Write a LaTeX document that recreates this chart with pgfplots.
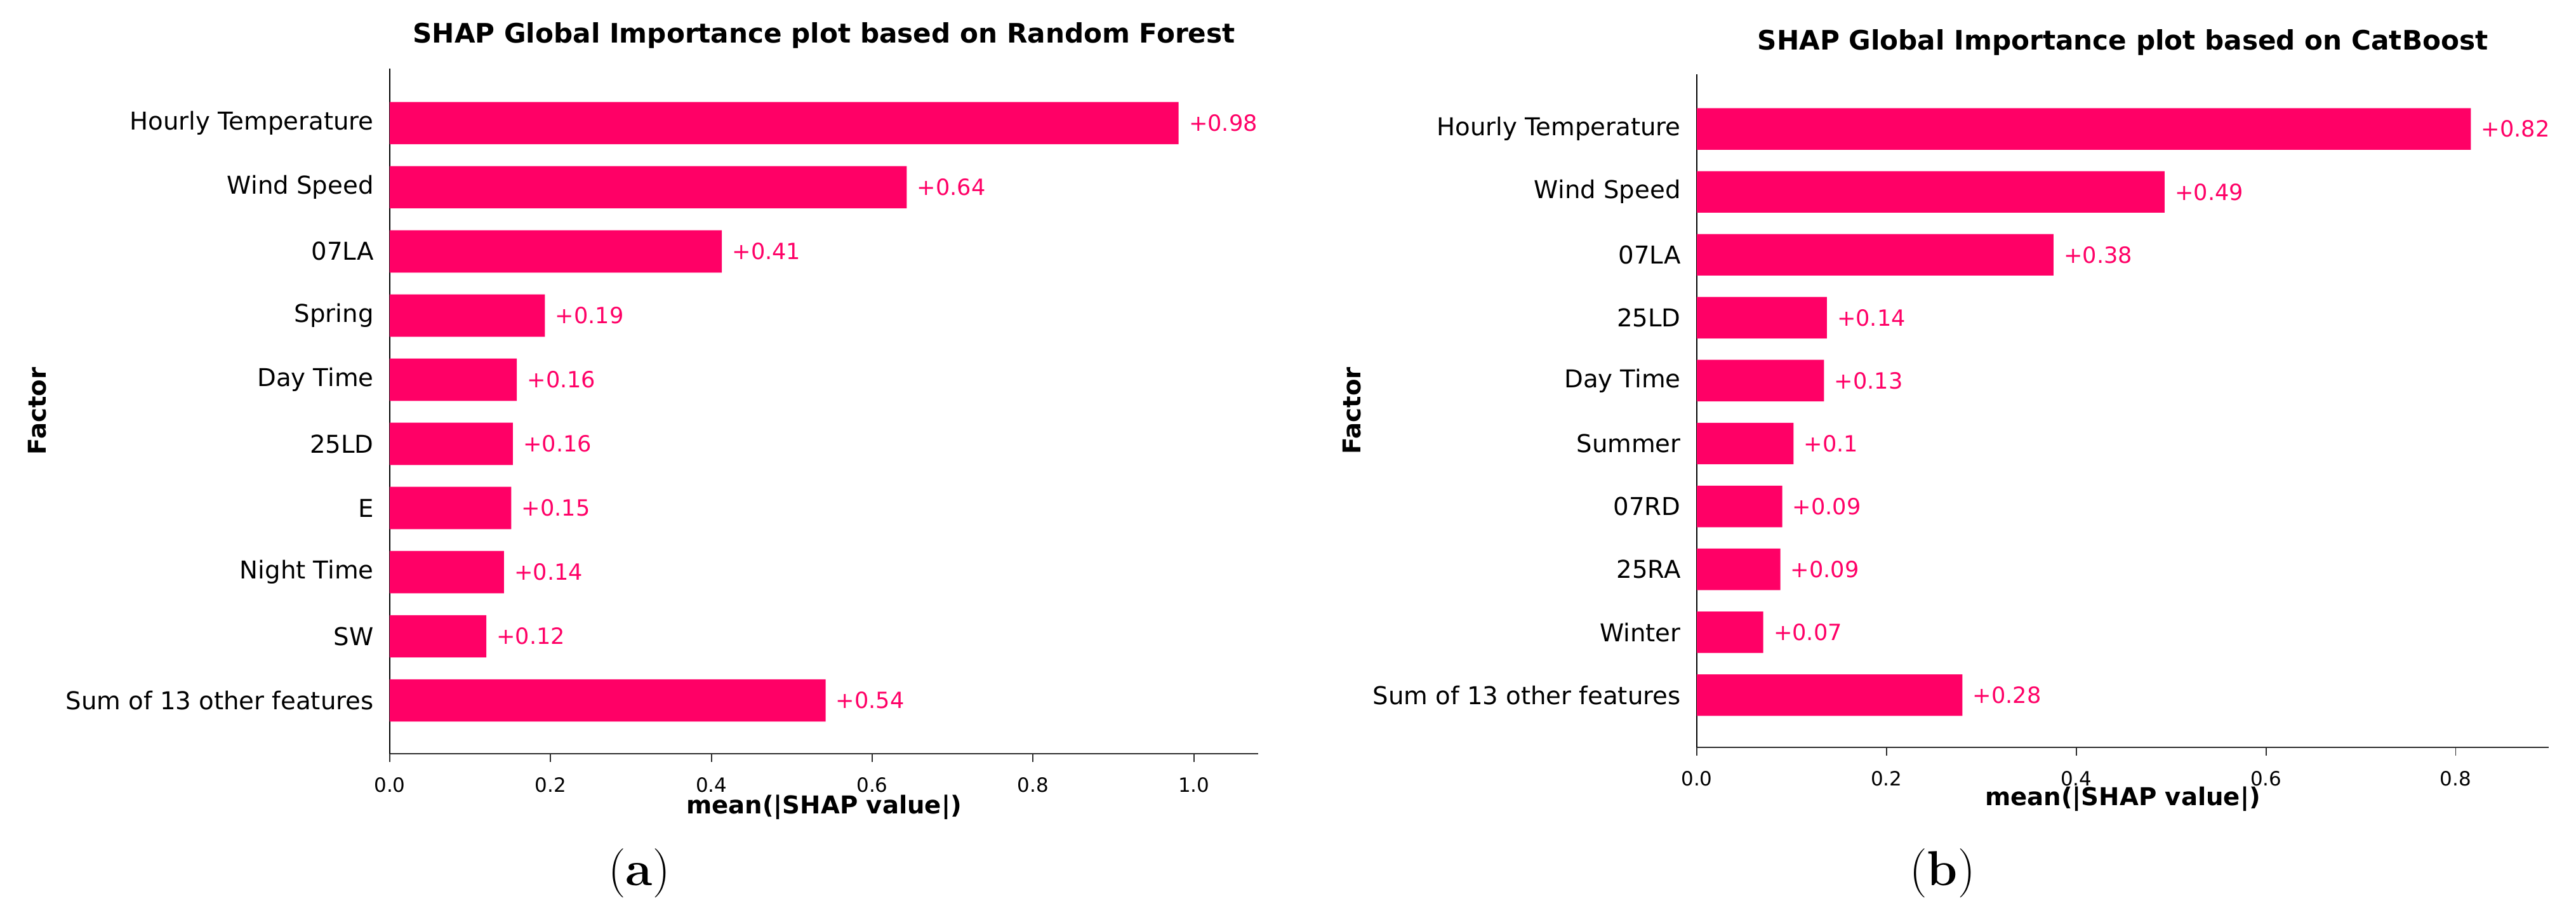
\documentclass[border=0pt]{standalone}
\usepackage{fontspec}
\usepackage{pgfplots}
\pgfplotsset{compat=1.18}
\newfontfamily\dv{DejaVu Sans}
\definecolor{shapred}{RGB}{255,0,102}
\definecolor{spine}{RGB}{45,45,45}
\pgfplotsset{shapbar/.style={
  scale only axis,
  xbar,
  bar width=0.66,
  xmin=0, ymin=-0.83,
  axis x line*=bottom, axis y line*=left,
  x axis line style={spine, line width=0.75pt, -},
  y axis line style={black, line width=0.5pt, -},
  ytick={0,...,9},
  yticklabel style={font=\dv\fontsize{11}{13}\selectfont, text=black},
  ytick style={draw=none},
  xtick style={spine, line width=0.5pt},
  xticklabel style={font=\dv\fontsize{8.8}{10}\selectfont, yshift=-1.2mm, /pgf/number format/fixed, /pgf/number format/fixed zerofill, /pgf/number format/precision=1},
  /pgf/number format/assume math mode=true,
  tick align=outside,
  major tick length=1.3mm,
  xlabel={mean(|SHAP value|)},
  ylabel={Factor},
  xlabel style={font=\dv\bfseries\fontsize{11}{13}\selectfont, anchor=center},
  ylabel style={font=\dv\bfseries\fontsize{11}{13}\selectfont, anchor=center},
  title style={font=\dv\bfseries\fontsize{12}{14}\selectfont, anchor=center},
  nodes near coords,
  point meta=explicit symbolic,
  nodes near coords style={font=\dv\fontsize{10}{12}\selectfont, text=shapred, anchor=west, xshift=0.4mm},
}}
\begin{document}
\begin{tikzpicture}
\useasboundingbox (0,0) rectangle (405.8mm,144mm);
\begin{axis}[shapbar,
  at={(61.4mm,25.3mm)}, anchor=south west,
  width=136.8mm, height=107.9mm,
  xmax=1.08, ymax=9.85,
  xtick={0,0.2,0.4,0.6,0.8,1.0},
  yticklabels={Sum of 13 other features,SW,Night Time,E,25LD,Day Time,Spring,07LA,Wind Speed,Hourly Temperature},
  title={SHAP Global Importance plot based on Random Forest},
  title style={at={(axis description cs:0.5,1.029)}},
  xlabel style={at={(axis description cs:0.5,-0.078)}},
  ylabel style={at={(axis description cs:-0.406,0.5)}},
]
\addplot[fill=shapred, draw=none] table[x=x, y=y, meta=lab] {
y x lab
0 0.542 +0.54
1 0.120 +0.12
2 0.142 +0.14
3 0.151 +0.15
4 0.153 +0.16
5 0.158 +0.16
6 0.193 +0.19
7 0.413 +0.41
8 0.643 +0.64
9 0.981 +0.98
};
\end{axis}
\begin{axis}[shapbar,
  at={(267.3mm,26.3mm)}, anchor=south west,
  width=134.2mm, height=106.0mm,
  xmax=0.898, ymax=9.87,
  xtick={0,0.2,0.4,0.6,0.8},
  yticklabels={Sum of 13 other features,Winter,25RA,07RD,Summer,Day Time,25LD,07LA,Wind Speed,Hourly Temperature},
  title={SHAP Global Importance plot based on CatBoost},
  title style={at={(axis description cs:0.5,1.027)}},
  xlabel style={at={(axis description cs:0.5,-0.077)}},
  ylabel style={at={(axis description cs:-0.405,0.5)}},
]
\addplot[fill=shapred, draw=none] table[x=x, y=y, meta=lab] {
y x lab
0 0.280 +0.28
1 0.070 +0.07
2 0.088 +0.09
3 0.090 +0.09
4 0.102 +0.1
5 0.134 +0.13
6 0.137 +0.14
7 0.376 +0.38
8 0.493 +0.49
9 0.816 +0.82
};
\end{axis}
\node[font=\fontsize{22}{26}\selectfont] at (100.7mm,6.5mm) {(\textbf{a})};
\node[font=\fontsize{22}{26}\selectfont] at (306.0mm,6.5mm) {(\textbf{b})};
\end{tikzpicture}
\end{document}
